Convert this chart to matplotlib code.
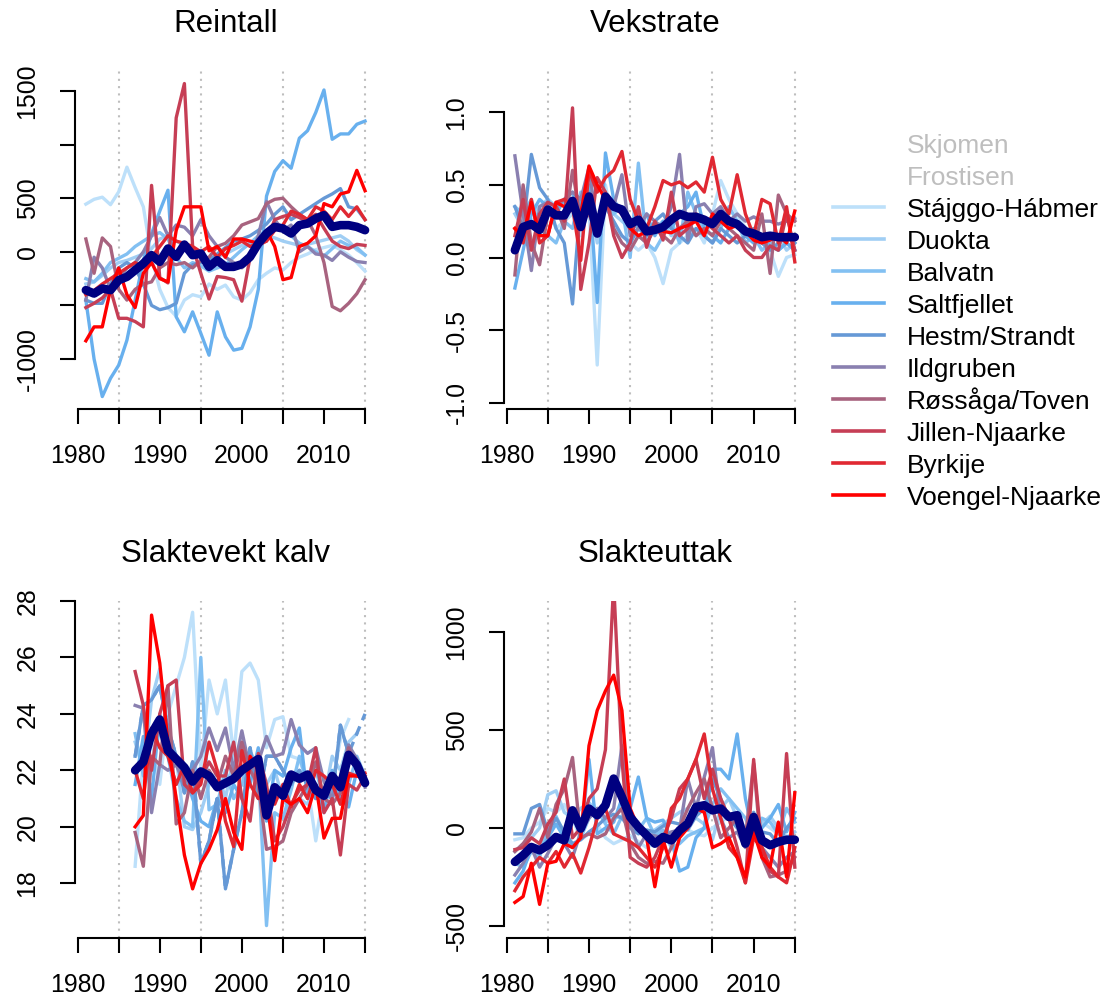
import numpy as np
import matplotlib
matplotlib.use("Agg")
import matplotlib.pyplot as plt
from matplotlib.lines import Line2D

plt.rcParams['font.family'] = ['Liberation Sans', 'DejaVu Sans']

nan = np.nan
years = list(range(1981, 2016))

districts = ['Skjomen', 'Frostisen', 'Stájggo-Hábmer', 'Duokta', 'Balvatn', 'Saltfjellet',
             'Hestm/Strandt', 'Ildgruben', 'Røssåga/Toven', 'Jillen-Njaarke', 'Byrkije',
             'Voengel-Njaarke']
# first two districts have no data (grey in legend)
colors = ['#BDE0FA', '#A0CEF4', '#82C0F2', '#68B0EE', '#6699D6',
          '#8A80B0', '#A8637F', '#C63E55', '#E02832', '#FF0000']
mean_color = '#000080'

# rows: Stájggo, Duokta, Balvatn, Saltfjellet, Hestm, Ildgruben, Røssåga, Jillen, Byrkije, Voengel
reintall = [
    [445, 490, 510, 440, 560, 790, 600, 420, -50, -350, -520, -600, -450, -400, -420, -300, -350, -310, -420, -450,
     -380, -260, -200, -150, -170, -100, -50, -20, 20, 40, 60, 20, -30, -100, -180],
    [-300, -280, -220, -150, -100, -80, -50, -20, 30, 120, 150, 100, 60, 30, -30, -60, -40, -20, 20, 60,
     80, 100, 150, 130, 100, 80, 60, 70, 90, 110, 130, 150, 100, 20, -30],
    [-250, -280, -200, -100, -60, -20, 50, 100, 150, 180, 120, -50, -150, -100, -130, -180, -150, -120, -50, 20,
     80, 150, 200, 250, 200, 150, 80, 50, 0, -40, 30, 100, 60, 40, -30],
    [-450, -1000, -1350, -1180, -1057, -824, -450, -78, 171, 380, 575, -606, -746, -560, -760, -964, -560, -793, -917, -900,
     -700, -350, 520, 750, 850, 780, 1060, 1130, 1300, 1510, 1050, 1100, 1100, 1190, 1220],
    [-450, -480, -480, -300, -150, -100, -150, -300, -500, -540, -520, -480, -200, -120, -100, -80, -20, 40, 100, 120,
     150, 200, 260, 350, 420, 300, 350, 400, 450, 500, 540, 590, 420, 400, 300],
    [-450, -50, -150, -350, -250, -150, -100, 0, 150, 320, 150, 250, 230, 150, 300, 150, 50, -50, -100, -150,
     -50, 150, 470, 300, 200, 250, 0, 50, -20, -30, -80, 0, -50, -90, -100],
    [120, -200, 130, 50, -350, -450, -350, -300, -280, -150, -100, -120, -100, -150, -80, -50, 50, 80, 150, 250,
     280, 310, 450, 490, 500, 420, 350, 300, 150, -100, -510, -550, -480, -390, -260],
    [-520, -480, -430, -350, -620, -620, -650, -700, 620, -240, -290, 1250, 1570, 50, -200, -440, -230, -240, -260, -460,
     -50, 60, 100, 300, 330, 350, 320, 280, 350, 220, 100, 50, 30, 70, 60],
    [-400, -360, -300, -250, -200, -150, -100, -150, -50, 50, 150, 100, 80, 50, 0, 50, -50, 30, 60, 100,
     50, 80, 100, 200, 250, 380, 350, 300, 420, 380, 300, 420, 330, 420, 300],
    [-830, -700, -700, -350, -150, -400, -520, -200, -100, -250, -280, 200, 420, 420, 420, 10, 50, -50, 120, 120,
     100, 80, 200, 50, -260, -240, 50, 80, 150, 450, 420, 540, 560, 760, 570],
]
reintall_mean = [-357, -389, -342, -357, -264, -233, -171, -109, -31, -93, 31, -47, 68, -31, -16, -140, -78, -140, -140, -115,
                 -47, 78, 171, 233, 218, 171, 249, 264, 311, 342, 233, 249, 249, 233, 202]

vekstrate = [
    [0.10, 0.15, 0.25, 0.30, 0.35, 0.20, 0.25, 0.30, 0.15, 0.35, -0.74, 0.50, 0.20, 0.15, 0.10, 0.05, 0.10, 0.00, -0.18, 0.05,
     0.10, 0.15, 0.20, 0.10, 0.30, 0.53, 0.40, 0.30, 0.20, 0.10, 0.15, 0.05, -0.13, 0.00, 0.02],
    [0.30, 0.20, 0.30, 0.35, 0.40, 0.35, 0.25, 0.40, 0.30, 0.45, 0.10, 0.35, 0.30, 0.25, 0.20, 0.15, 0.10, 0.20, 0.25, 0.15,
     0.20, 0.25, 0.15, 0.20, 0.25, 0.30, 0.20, 0.25, 0.15, 0.10, 0.15, 0.10, 0.15, 0.05, 0.10],
    [0.35, 0.30, 0.40, 0.20, 0.15, 0.10, 0.25, 0.20, 0.45, 0.30, 0.20, 0.40, 0.30, 0.35, 0.00, 0.65, 0.10, 0.05, 0.15, 0.25,
     0.10, 0.45, 0.30, 0.15, 0.10, 0.20, 0.35, 0.25, 0.10, 0.15, 0.05, 0.10, 0.05, 0.10, 0.05],
    [-0.21, 0.05, 0.30, 0.40, 0.35, 0.30, 0.40, 0.45, 0.30, 0.50, -0.31, 0.72, 0.40, 0.30, 0.25, 0.20, 0.30, 0.15, 0.25, 0.20,
     0.30, 0.35, 0.45, 0.20, 0.15, 0.10, 0.20, 0.25, 0.15, 0.10, 0.12, 0.08, 0.05, 0.10, 0.05],
    [0.35, 0.20, 0.71, 0.48, 0.40, 0.20, 0.10, -0.32, 0.40, 0.45, 0.20, 0.35, 0.25, 0.15, 0.10, 0.20, 0.15, 0.25, 0.30, 0.20,
     0.15, 0.10, 0.20, 0.15, 0.10, 0.20, 0.15, 0.10, 0.15, 0.20, 0.10, 0.05, 0.10, 0.15, 0.10],
    [0.70, 0.30, -0.09, 0.35, 0.38, 0.35, 0.40, 0.45, 0.40, 0.62, 0.20, 0.40, 0.35, 0.57, 0.15, 0.20, 0.30, 0.25, 0.20, 0.35,
     0.71, 0.12, 0.35, 0.37, 0.30, 0.35, 0.25, 0.30, 0.25, 0.28, 0.25, 0.25, 0.23, 0.25, 0.27],
    [-0.12, 0.50, 0.10, -0.05, 0.30, 0.35, 0.20, 0.60, 0.25, 0.30, 0.15, 0.45, 0.20, 0.10, 0.05, 0.15, 0.10, 0.20, 0.15, 0.10,
     0.20, 0.25, 0.15, 0.20, 0.15, 0.25, 0.20, 0.15, 0.10, 0.05, 0.30, -0.11, 0.43, 0.30, 0.25],
    [0.15, 0.40, 0.05, 0.30, 0.38, 0.35, 0.25, 1.03, -0.22, 0.10, 0.55, 0.45, 0.15, 0.00, 0.10, 0.35, 0.07, 0.25, 0.12, 0.45,
     0.15, 0.20, 0.30, 0.25, 0.20, 0.15, 0.10, 0.15, 0.05, 0.00, 0.00, 0.08, 0.05, 0.30, 0.05],
    [0.20, 0.10, 0.40, 0.10, 0.15, 0.38, 0.40, 0.35, -0.02, 0.60, 0.45, 0.55, 0.60, 0.73, 0.40, 0.25, 0.20, 0.35, 0.53, 0.50,
     0.52, 0.48, 0.52, 0.45, 0.69, 0.40, 0.30, 0.57, 0.30, 0.15, 0.40, 0.37, 0.10, 0.35, -0.03],
    [0.20, 0.15, 0.38, 0.15, 0.15, 0.38, 0.35, 0.38, 0.30, 0.63, 0.50, 0.40, 0.35, 0.30, 0.20, 0.15, 0.18, 0.20, 0.18, 0.17,
     0.20, 0.22, 0.25, 0.15, 0.30, 0.25, 0.20, 0.22, 0.18, 0.12, 0.10, 0.12, 0.15, 0.10, 0.32],
]
vekstrate_mean = [0.05, 0.21, 0.23, 0.19, 0.33, 0.29, 0.29, 0.39, 0.21, 0.42, 0.165, 0.42, 0.35, 0.33, 0.23, 0.26, 0.18, 0.19, 0.21, 0.26,
                  0.30, 0.28, 0.28, 0.26, 0.23, 0.30, 0.25, 0.23, 0.18, 0.165, 0.14, 0.15, 0.14, 0.14, 0.14]

# slaughter weight starts 1987
pre = [nan] * 6
slaktevekt = [
    pre + [18.6, 22.5, 23.0, 21.5, 24.0, 25.0, 26.0, 27.6, 22.0, 25.2, 24.0, 25.2, 22.5, 25.5, 25.8, 25.2, 22.8, 23.8, 23.9, 22.5,
           22.4, 21.5, 19.5, 21.3, 21.5, 23.1, 23.8, nan, nan],
    pre + [23.0, 22.0, 24.5, 25.6, 23.0, 22.5, 20.0, 19.9, 20.5, 21.5, 22.0, 21.0, 22.5, 22.8, 22.0, 22.5, 21.5, 22.0, 21.0, 20.5,
           21.0, 20.8, 21.5, 21.0, 22.5, 22.0, 23.0, 23.3, nan],
    pre + [23.3, 21.8, 22.0, 23.5, 22.5, 21.0, 20.2, 20.0, 26.0, 20.6, 20.8, 22.0, 21.0, 21.5, 22.7, 22.0, 16.5, 20.5, 20.3, 21.3,
           22.5, 21.5, 22.0, 21.0, 21.5, 20.8, 21.5, 22.5, 21.8],
    pre + [21.5, 23.2, 21.0, 24.0, 22.5, 21.5, 22.0, 21.0, 20.2, 20.0, 21.0, 20.5, 21.5, 21.0, 21.5, 22.8, 20.2, 22.0, 21.8, 22.8,
           23.5, 21.0, 21.5, 20.5, 22.0, 21.0, 20.7, 22.0, 21.5],
    pre + [22.5, 24.3, 24.5, 25.0, 23.5, 22.5, 21.2, 22.3, 18.7, 19.5, 21.0, 17.8, 19.2, 20.5, 22.8, 21.0, 22.5, 22.5, 22.0, 21.5,
           22.0, 21.5, 21.0, 21.2, 21.0, 23.6, 22.6, nan, 24.0],
    pre + [24.3, 24.2, 20.5, 22.2, 22.0, 22.2, 21.5, 22.0, 22.5, 23.5, 22.7, 23.5, 22.0, 23.4, 22.0, 22.3, 23.2, 22.5, 22.6, 23.8,
           22.9, 22.6, 22.8, 21.6, 21.0, 21.8, 22.9, 22.4, 21.4],
    pre + [19.8, 18.6, 22.5, 22.2, 25.0, 20.1, 20.5, 22.0, 21.0, 22.0, 21.5, 22.5, 21.8, 23.0, 22.0, 21.5, 19.2, 19.3, 19.5, 20.5,
           21.0, 21.5, 22.3, 21.0, 20.8, 21.2, 22.8, 22.0, 21.5],
    pre + [25.5, 24.3, 22.0, 24.0, 25.0, 25.2, 21.5, 21.2, 21.7, 22.3, 21.8, 21.8, 23.0, 21.0, 20.2, 22.6, 21.5, 19.5, 20.0, 20.8,
           21.3, 21.5, 22.8, 20.5, 21.0, 19.0, 21.5, 21.3, 21.8],
    pre + [22.0, 21.0, 23.5, 22.8, 22.5, 21.5, 22.2, 21.2, 21.5, 23.0, 22.0, 20.2, 19.3, 22.7, 21.5, 21.0, 21.2, 20.8, 21.5, 20.7,
           21.5, 21.0, 22.0, 21.8, 21.5, 20.8, 21.9, 21.8, 21.9],
    pre + [20.0, 20.4, 27.5, 25.8, 23.0, 21.0, 19.0, 17.8, 18.7, 19.2, 19.9, 21.0, 19.8, 19.2, 22.5, 22.0, 21.0, 18.8, 21.0, 20.8,
           21.0, 20.5, 21.5, 19.6, 20.3, 20.3, 21.8, 21.8, 21.7],
]
slaktevekt_mean = pre + [22.0, 22.3, 23.3, 23.8, 22.7, 22.4, 22.1, 21.6, 21.96, 21.8, 21.4, 21.55, 21.7, 22.0, 22.2, 22.4, 20.4, 21.4,
                         21.1, 21.85, 21.7, 21.85, 21.3, 21.1, 21.8, 21.4, 22.55, 22.2, 21.55]

slakteuttak = [
    [-60, -50, 0, 30, 100, 80, 120, 50, -60, -30, 20, -50, -80, -60, -40, -70, -100, -80, -50, -40,
     -20, -10, -30, -40, 0, 30, 60, 20, -30, -10, 30, 0, -30, -40, -50],
    [-120, -80, -50, 0, 170, 190, 80, 50, 100, 130, 80, 30, 50, 60, 40, 10, -30, -10, 20, 50,
     80, 100, 50, 20, -60, 100, 150, 50, 0, -30, 20, 60, 0, -50, -20],
    [-180, -200, -120, -150, 20, 60, -30, 80, -50, 50, 100, 20, -30, 60, 30, -10, 50, -40, -10, -100,
     -80, -40, -20, 0, 120, 200, 150, 100, 50, -50, 50, 30, -30, 100, 30],
    [-280, -220, -100, -130, -50, 20, -50, -100, -50, 350, -30, 0, 30, 150, 100, 260, 50, 30, 40, -60,
     -220, -200, -50, 0, 300, 300, 250, 480, 150, -50, 0, 50, 120, -20, 80],
    [-30, -30, 100, 120, -20, 50, -20, -80, -60, -20, 10, 50, 70, 50, 0, -30, -10, -20, 10, 30,
     20, -10, 60, 100, 250, 150, 50, 0, -50, 80, -20, -30, -80, 0, 50],
    [-240, -180, -100, -200, -130, -50, -80, -150, -20, 50, 100, 50, 100, 420, 20, -100, -30, -40, -50, -20,
     -10, 250, 100, 260, 410, 50, -50, -20, -100, -50, -100, -150, -200, -150, -120],
    [-120, -80, -20, 100, -50, 120, 200, 360, -50, -30, -50, -30, 50, 100, -80, -150, -180, -170, -180, -100,
     0, 100, 180, 250, 100, -50, 0, 50, -50, 330, -150, -250, -240, -220, -150],
    [-110, -100, -50, -80, 20, 80, 250, -50, 0, 150, 200, 400, 1250, 350, -150, -180, -200, -150, -50, 50,
     200, 250, 350, 150, 300, 150, 50, -100, -280, 350, -100, -220, -250, 380, -200],
    [-320, -250, -200, -150, -180, -120, -200, -130, -230, -100, 50, 100, -30, -50, -70, -100, -150, -200, -100, 100,
     150, 250, 350, 480, 200, 50, -100, -150, -280, -50, -100, -200, -250, -280, -100],
    [-380, -350, -180, -390, -180, -170, -80, -100, -50, 420, 600, 700, 780, 600, 100, 0, -50, -300, -60, -200,
     -50, 0, 100, 80, -100, -80, -50, -150, -250, -20, -150, -200, 30, -250, 180],
]
slakteuttak_mean = [-173, -139, -97, -114, -88, -46, -63, 90, -3, 99, 65, 116, 252, 158, 56, 5, -37, -80, -46, -63,
                    -12, 22, 107, 116, 90, 99, 56, 65, -80, 56, -63, -88, -71, -60, -60]

W, H = 1107, 998
fig = plt.figure(figsize=(W / 100, H / 100), dpi=100)


def panel(left, right, top, bottom, title, rows, mean, ylim, yticks, ylabels, dashed_row=None):
    ax = fig.add_axes([left / W, 1 - bottom / H, (right - left) / W, (bottom - top) / H])
    ax.set_xlim(1979.64, 2016.36)
    ax.set_ylim(*ylim)
    for yr in (1985, 1995, 2005, 2015):
        ax.axvline(yr, color='#BEBEBE', lw=1.5, ls=(0, (1, 2.5)), zorder=0)
    for i, (vals, col) in enumerate(zip(rows, colors)):
        if i == dashed_row:
            v = np.array(vals, dtype=float)
            ok = ~np.isnan(v)
            ax.plot(np.array(years)[ok], v[ok], color=col, lw=2.4, ls=(0, (3, 2)))
        ax.plot(years, vals, color=col, lw=2.4)
    ax.plot(years, mean, color=mean_color, lw=6.2, solid_capstyle='round', solid_joinstyle='round')

    for s in ('top', 'right'):
        ax.spines[s].set_visible(False)
    for s in ('left', 'bottom'):
        ax.spines[s].set_linewidth(1.5)
    ax.spines['left'].set_bounds(yticks[0], yticks[-1])
    ax.spines['bottom'].set_bounds(1980, 2015)
    ax.set_xticks(range(1980, 2016, 5))
    ax.set_xticklabels(['1980', '', '1990', '', '2000', '', '2010', ''], fontsize=17.9)
    ax.set_yticks(yticks)
    ax.set_yticklabels(ylabels, fontsize=17.9, rotation=90, va='center')
    ax.tick_params(axis='both', length=10.8, width=1.5, direction='out')
    ax.tick_params(axis='x', pad=14.5)
    ax.tick_params(axis='y', pad=14.5)
    ax.patch.set_visible(False)
    cx = (left + right) / 2 / W
    fig.text(cx, 1 - (top - 38.5) / H, title, ha='center', va='baseline', fontsize=22.5)
    return ax


panel(74.7, 376.2, 71, 409, 'Reintall', reintall, reintall_mean, (-1466, 1687),
      [-1000, -500, 0, 500, 1000, 1500], ['-1000', '', '0', '500', '', '1500'])
panel(503.7, 806.0, 71, 409, 'Vekstrate', vekstrate, vekstrate_mean, (-1.043, 1.284),
      [-1, -0.5, 0, 0.5, 1], ['-1.0', '-0.5', '0.0', '0.5', '1.0'])
panel(74.7, 376.2, 600.7, 937.7, 'Slaktevekt kalv', slaktevekt, slaktevekt_mean, (16.07, 28.01),
      [18, 20, 22, 24, 26, 28], ['18', '20', '22', '24', '26', '28'], dashed_row=4)
panel(503.7, 806.0, 600.7, 937.7, 'Slakteuttak', slakteuttak, slakteuttak_mean, (-560, 1160),
      [-500, 0, 500, 1000], ['-500', '0', '500', '1000'])

# legend
for i, name in enumerate(districts):
    y = 207.3 + (i - 2) * 31.97
    if i < 2:
        tcol = '#BEBEBE'
    else:
        tcol = 'black'
        fig.add_artist(Line2D([833 / W, 884 / W], [1 - y / H, 1 - y / H], color=colors[i - 2], lw=2.6))
    fig.text(907 / W, 1 - (y + 10) / H, name, ha='left', va='baseline', fontsize=19.0, color=tcol)

fig.savefig('out.png', dpi=100)
